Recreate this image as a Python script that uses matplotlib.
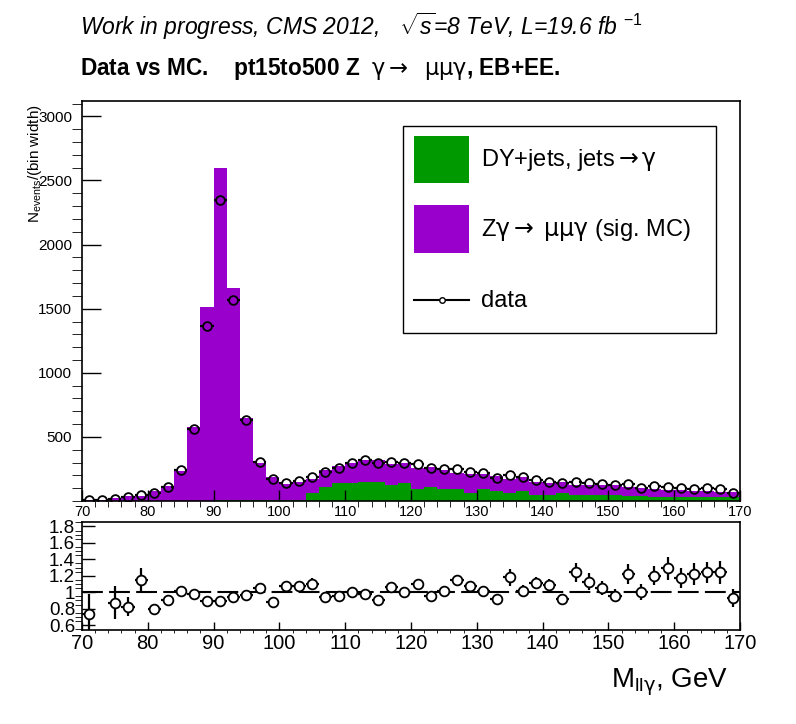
import numpy as np
import matplotlib
matplotlib.use("Agg")
import matplotlib.pyplot as plt
from matplotlib.patches import Rectangle
from matplotlib.lines import Line2D
from matplotlib.ticker import MultipleLocator, FixedLocator

plt.rcParams['font.family'] = ['Liberation Sans', 'DejaVu Sans']
plt.rcParams['mathtext.fontset'] = 'custom'
plt.rcParams['mathtext.rm'] = 'Liberation Sans'
plt.rcParams['mathtext.it'] = 'Liberation Sans:italic'
plt.rcParams['mathtext.bf'] = 'Liberation Sans:bold'
plt.rcParams['mathtext.sf'] = 'DejaVu Sans'

# binning: 2 GeV bins from 70 to 170
bordi = np.arange(70, 171, 2)
centri = bordi[:-1] + 1

# data, N/(bin width)
dati = [8, 7, 19, 31, 47, 65, 109, 239, 564, 1368,
        2348, 1570, 631, 307, 169, 143, 156, 187, 229, 260,
        299, 317, 294, 304, 299, 286, 260, 247, 252, 226,
        216, 177, 203, 187, 161, 148, 138, 151, 138, 130,
        122, 133, 104, 117, 109, 99, 91, 99, 91, 65]

# MC total (signal + DY) and DY+jets part
mc_tot = [11, 10, 22, 38, 41, 81, 119, 236, 576, 1516,
          2598, 1659, 650, 294, 190, 134, 145, 170, 242, 276,
          299, 322, 322, 292, 298, 258, 268, 245, 220, 214,
          210, 193, 175, 184, 145, 138, 150, 123, 121, 122,
          126, 107, 104, 95, 85, 85, 76, 78, 73, 70]

dy_jets = [0, 0, 0, 0, 0, 0, 0, 0, 0, 0,
           5, 5, 5, 6, 6, 6, 8, 65, 109, 138,
           143, 148, 148, 122, 138, 91, 112, 96, 91, 65,
           91, 78, 65, 75, 49, 49, 60, 44, 44, 44,
           44, 39, 39, 34, 34, 31, 34, 34, 34, 34]

# ratio data/MC, NaN where off-scale
rapporto = [0.73, np.nan, 0.87, 0.825, 1.15, 0.80, 0.906, 1.016, 0.976, 0.894,
            0.894, 0.947, 0.967, 1.05, 0.886, 1.07, 1.08, 1.10, 0.947, 0.95,
            1.0, 0.976, 0.906, 1.06, 1.0, 1.10, 0.955, 1.01, 1.15, 1.07,
            1.016, 0.92, 1.18, 1.016, 1.11, 1.09, 0.92, 1.24, 1.13, 1.05,
            0.955, 1.22, 1.0, 1.20, 1.29, 1.17, 1.22, 1.24, 1.24, 0.93]

err_rapporto = [0.25, 0.0, 0.2, 0.12, 0.15, 0.06, 0.05, 0.03, 0.02, 0.02,
                0.02, 0.02, 0.03, 0.04, 0.05, 0.05, 0.05, 0.07, 0.05, 0.05,
                0.04, 0.04, 0.04, 0.05, 0.05, 0.05, 0.05, 0.05, 0.06, 0.06,
                0.06, 0.06, 0.1, 0.07, 0.075, 0.07, 0.06, 0.115, 0.1, 0.09,
                0.08, 0.12, 0.1, 0.115, 0.14, 0.125, 0.13, 0.13, 0.145, 0.11]

viola = '#9900cc'
verde = '#009900'

W, H = 796, 724
fig = plt.figure(figsize=(W / 100, H / 100), dpi=100)

ax1 = fig.add_axes([82 / W, 1 - 501 / H, 658 / W, 400 / H])
ax2 = fig.add_axes([82 / W, 1 - 630 / H, 658 / W, 108.5 / H])

# --- top panel ---
ax1.stairs(mc_tot, bordi, fill=True, color=viola, linewidth=0)
ax1.stairs(dy_jets, bordi, fill=True, color=verde, linewidth=0)

# horizontal bars outside the hollow marker
ax1.hlines(dati, bordi[:-1], centri - 0.6, color='k', lw=1.6)
ax1.hlines(dati, centri + 0.6, bordi[1:], color='k', lw=1.6)
ax1.plot(centri, dati, 'o', mfc='none', mec='k', ms=6.3, mew=1.3)

ax1.set_xlim(70, 170)
ax1.set_ylim(0, 3120)
ax1.yaxis.set_major_locator(FixedLocator([500, 1000, 1500, 2000, 2500, 3000]))
ax1.yaxis.set_minor_locator(MultipleLocator(100))
ax1.xaxis.set_major_locator(MultipleLocator(10))
ax1.xaxis.set_minor_locator(MultipleLocator(2))
ax1.tick_params(direction='in', top=False, right=False, width=1)
ax1.tick_params(axis='y', which='major', length=13.5, labelsize=11, pad=7)
ax1.tick_params(axis='y', which='minor', length=7.5)
ax1.tick_params(axis='x', which='major', length=8, labelsize=10.5, pad=3)
ax1.tick_params(axis='x', which='minor', length=4.3)
for s in ax1.spines.values():
    s.set_linewidth(1.2)

# --- ratio panel ---
ax2.axhline(1, color='k', lw=1.5, dashes=(10, 3), zorder=1)
ax2.errorbar(centri, rapporto, xerr=1, yerr=err_rapporto, fmt='o', mfc='white',
             mec='k', ms=7, mew=1.3, ecolor='k', elinewidth=1.6, capsize=0, zorder=3)
ax2.set_xlim(70, 170)
ax2.set_ylim(0.54, 1.86)
ax2.yaxis.set_major_locator(FixedLocator([0.6, 0.8, 1.0, 1.2, 1.4, 1.6, 1.8]))
ax2.set_yticklabels(['0.6', '0.8', '1', '1.2', '1.4', '1.6', '1.8'])
ax2.yaxis.set_minor_locator(MultipleLocator(0.05))
ax2.xaxis.set_major_locator(MultipleLocator(10))
ax2.xaxis.set_minor_locator(MultipleLocator(2))
ax2.tick_params(direction='in', top=False, right=False, width=1)
ax2.tick_params(axis='y', which='major', length=9.4, labelsize=13.5, pad=5)
ax2.tick_params(axis='y', which='minor', length=4.8)
ax2.tick_params(axis='x', which='major', length=5.8, labelsize=14.5, pad=3)
ax2.tick_params(axis='x', which='minor', length=2.2)
for s in ax2.spines.values():
    s.set_linewidth(1.2)

# --- texts ---
fig.text(80 / W, 1 - 35 / H,
         r"Work in progress, CMS 2012,   $\sqrt{s}$=8 TeV, L=19.6 fb $^{-1}$",
         style='italic', fontsize=16.5, va='baseline', ha='left')
fig.text(80 / W, 1 - 75 / H,
         r"Data vs MC.    pt15to500 Z  $\mathsf{\gamma\rightarrow}$  $\mathsf{\mu\mu\gamma}$, EB+EE.",
         weight='bold', fontsize=16.3, va='baseline', ha='left')
fig.text(35 / W, 1 - 104 / H, r"N$_{\mathrm{events}}$/(bin width)",
         rotation=90, ha='center', va='top', fontsize=11)
fig.text(728 / W, 1 - 687 / H, r"M$_{\mathrm{ll}\mathsf{\gamma}}$, GeV",
         ha='right', va='baseline', fontsize=20)

# --- legend (ROOT-like box) ---
tf = fig.transFigure
fig.add_artist(Rectangle((403 / W, 1 - 333 / H), 313 / W, 207 / H, transform=tf,
                         fill=False, edgecolor='k', lw=1))
fig.add_artist(Rectangle((414 / W, 1 - 183 / H), 55 / W, 47 / H, transform=tf,
                         facecolor=verde, edgecolor='none'))
fig.add_artist(Rectangle((414 / W, 1 - 253 / H), 55 / W, 48 / H, transform=tf,
                         facecolor=viola, edgecolor='none'))
fig.add_artist(Line2D([414 / W, 469 / W], [1 - 300 / H, 1 - 300 / H], transform=tf,
                      color='k', lw=1.5))
fig.add_artist(Line2D([441.5 / W], [1 - 300 / H], transform=tf, marker='o',
                      mfc='white', mec='k', ms=4, mew=1))
fig.text(481 / W, 1 - 160 / H, r"DY+jets, jets$\mathsf{\rightarrow\gamma}$",
         fontsize=17, va='center')
fig.text(481 / W, 1 - 230 / H, r"Z$\mathsf{\gamma\rightarrow}$ $\mathsf{\mu\mu\gamma}$ (sig. MC)",
         fontsize=17, va='center')
fig.text(481 / W, 1 - 301 / H, "data", fontsize=17, va='center')

fig.savefig("out.png", dpi=100)
